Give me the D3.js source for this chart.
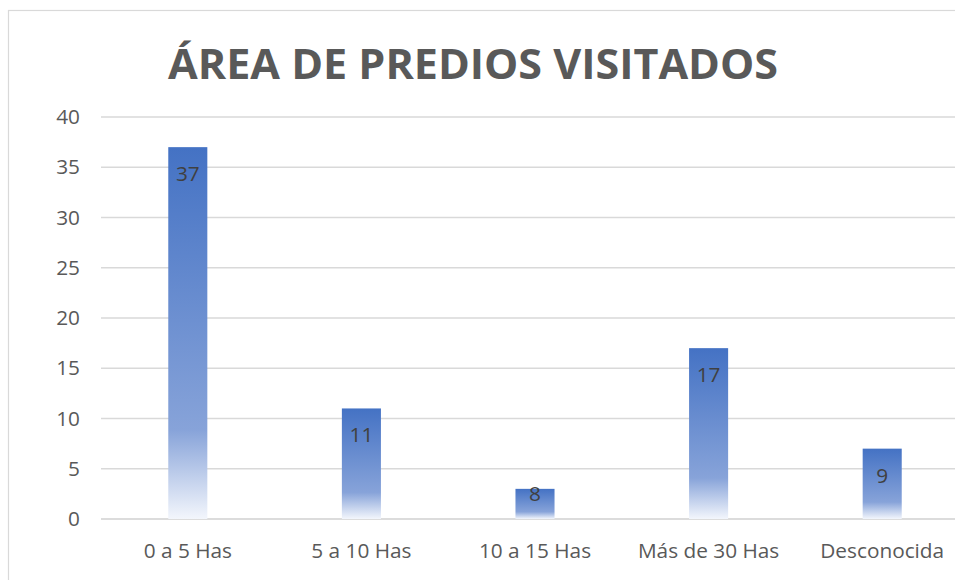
<!DOCTYPE html>
<html><head><meta charset="utf-8">
<script src="https://cdn.jsdelivr.net/npm/d3@7"></script>
<style>html,body{margin:0;padding:0;background:#fff;overflow:hidden}</style>
</head><body>
<svg id="chart" width="955" height="580"></svg>
<script>
const categories = ["0 a 5 Has", "5 a 10 Has", "10 a 15 Has", "Más de 30 Has", "Desconocida"];
const values = [37, 11, 3, 17, 7];
const dataLabels = ["37", "11", "8", "17", "9"];
const yTicks = [0, 5, 10, 15, 20, 25, 30, 35, 40];
const title = "ÁREA DE PREDIOS VISITADOS";

const svg = d3.select("#chart");
const font = "'Open Sans', 'Noto Sans', sans-serif";
const fs = 20.8;

// chart frame
svg.append("rect").attr("x", 8.5).attr("y", 10.5).attr("width", 960).attr("height", 600)
  .attr("fill", "#fff").attr("stroke", "#d9d9d9").attr("stroke-width", 1.2);

const m = {left: 101, right: 969, top: 117, bottom: 519};
const x = d3.scaleBand().domain(categories).range([m.left, m.right]).paddingInner(0.775).paddingOuter(0.3875);
const y = d3.scaleLinear().domain([0, 40]).range([m.bottom, m.top]);

const defs = svg.append("defs");
const grad = defs.append("linearGradient").attr("id", "barGrad")
  .attr("x1", 0).attr("y1", 0).attr("x2", 0).attr("y2", 1);
grad.append("stop").attr("offset", "0%").attr("stop-color", "#4472C4");
grad.append("stop").attr("offset", "76%").attr("stop-color", "#87A3D9");
grad.append("stop").attr("offset", "100%").attr("stop-color", "#F3F6FC");

// gridlines
svg.append("g").selectAll("line").data(yTicks).join("line")
  .attr("x1", m.left).attr("x2", m.right)
  .attr("y1", d => y(d)).attr("y2", d => y(d))
  .attr("stroke", d => d === 0 ? "#d0d0d0" : "#d9d9d9").attr("stroke-width", 1.5);

// y axis
const yAxis = svg.append("g").attr("transform", `translate(${m.left - 21},0)`)
  .call(d3.axisLeft(y).tickValues(yTicks).tickSize(0).tickPadding(0));
yAxis.select(".domain").remove();
yAxis.selectAll("text").attr("font-family", font).attr("font-size", fs).attr("fill", "#595959");

// x axis
const xAxis = svg.append("g").attr("transform", `translate(0,${m.bottom})`)
  .call(d3.axisBottom(x).tickSize(0).tickPadding(24));
xAxis.select(".domain").remove();
xAxis.selectAll("text").attr("font-family", font).attr("font-size", fs).attr("fill", "#595959");

// bars
svg.append("g").selectAll("rect").data(values).join("rect")
  .attr("x", (d, i) => x(categories[i]))
  .attr("width", x.bandwidth())
  .attr("y", d => y(d))
  .attr("height", d => y(0) - y(d))
  .attr("fill", "url(#barGrad)");

// data labels (inside end, kept within the bar)
svg.append("g").selectAll("text").data(values).join("text")
  .attr("x", (d, i) => x(categories[i]) + x.bandwidth() / 2)
  .attr("y", d => Math.min(y(d) + 34, y(0) - 18))
  .attr("text-anchor", "middle")
  .attr("font-family", font).attr("font-size", fs).attr("fill", "#404040")
  .text((d, i) => dataLabels[i]);

// title
svg.append("text").attr("x", 473).attr("y", 79).attr("text-anchor", "middle")
  .attr("font-family", font).attr("font-weight", "bold").attr("font-size", 41)
  .attr("fill", "#595959").attr("textLength", 610).attr("lengthAdjust", "spacingAndGlyphs")
  .text(title);
</script>
</body></html>
